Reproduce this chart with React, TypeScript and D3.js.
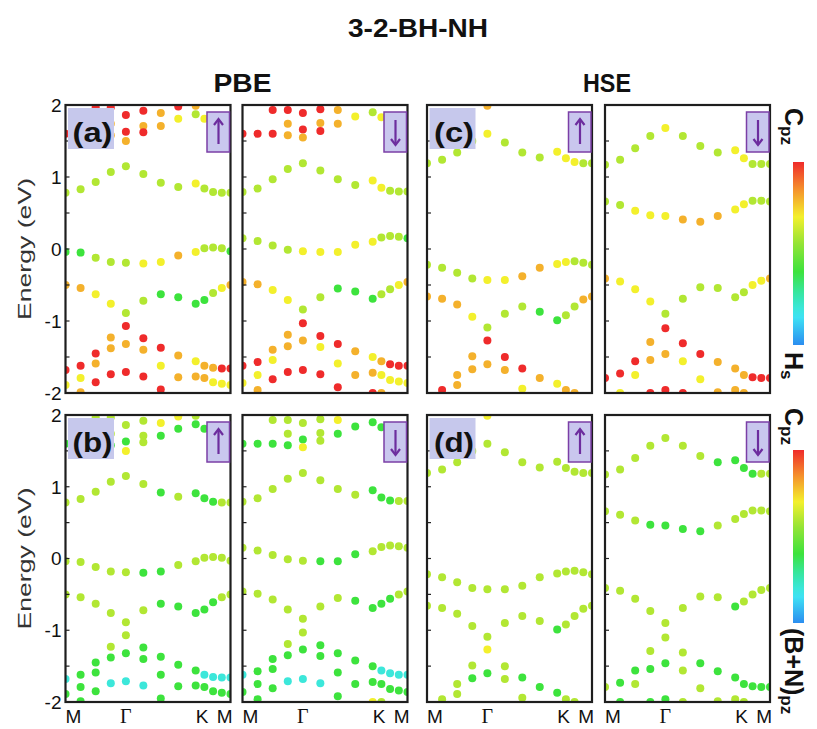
import React from 'react';
import * as d3 from 'd3';

// k-path M -> Γ -> K -> M, 13 sampled k-points (fraction of path length)
const kPath = [0, 0.0915, 0.183, 0.2745, 0.366, 0.4718, 0.5775, 0.6833, 0.789, 0.8418, 0.8945, 0.9473, 1];
const kTickPos = [0, 0.366, 0.789, 1];
const kTickLabels = ['M', 'Γ', 'K', 'M'];
const eTicks = [2, 1, 0, -1, -2];
const eMinorTicks = [1.5, 1, 0.5, 0, -0.5, -1, -1.5];

// band energies (eV), one value per k-point; null = not visible
const pbeUp = [
  [null, null, 1.97, 1.97, 1.86, 1.92, 1.89, 1.98, 1.99, null, null, null, null],
  [1.60, 1.60, 1.60, 1.74, 1.63, 1.71, 1.71, 1.81, 1.87, 1.81, null, null, 1.60],
  [null, null, null, 1.58, 1.50, 1.62, null, null, null, null, null, null, null],
  [0.78, 0.83, 0.93, 1.07, 1.15, 1.04, 0.92, 0.86, 0.91, 0.84, 0.79, 0.78, 0.78],
  [-0.04, -0.05, -0.12, -0.18, -0.19, -0.20, -0.18, -0.09, -0.04, 0.01, 0.02, 0.01, -0.03],
  [-0.50, -0.54, -0.63, -0.76, -0.89, -0.72, -0.63, -0.67, -0.76, -0.71, -0.61, -0.54, -0.50],
  [-1.68, -1.62, -1.45, -1.23, -1.07, -1.24, -1.37, -1.48, -1.56, -1.62, -1.65, -1.66, -1.66],
  [-1.89, -1.79, -1.59, -1.38, -1.32, -1.40, -1.62, -1.78, -1.77, -1.79, -1.85, -1.87, -1.89],
  [null, -1.99, -1.85, -1.74, -1.71, -1.77, -1.95, null, null, null, null, null, null],
];
const pbeDown = [
  [null, null, 1.93, 1.93, 1.89, 1.94, 1.93, null, null, null, null, null, null],
  [1.60, 1.60, 1.60, 1.74, 1.66, 1.75, 1.74, 1.84, 1.90, 1.83, null, null, 1.60],
  [null, null, null, 1.58, 1.55, 1.64, null, null, null, null, null, null, null],
  [0.79, 0.84, 0.97, 1.11, 1.19, 1.09, 0.97, 0.89, 0.95, 0.85, 0.81, 0.80, 0.80],
  [0.15, 0.11, 0.05, -0.01, -0.03, -0.04, -0.04, 0.06, 0.10, 0.16, 0.18, 0.17, 0.15],
  [-0.46, -0.49, -0.57, -0.71, -0.84, -0.67, -0.55, -0.59, -0.69, -0.63, -0.56, -0.50, -0.46],
  [-1.62, -1.57, -1.40, -1.19, -1.03, -1.21, -1.32, -1.42, -1.50, -1.56, -1.60, -1.62, -1.62],
  [-1.86, -1.75, -1.54, -1.35, -1.27, -1.36, -1.59, -1.75, -1.72, -1.75, -1.82, -1.84, -1.86],
  [null, -1.96, -1.81, -1.71, -1.68, -1.74, -1.92, null, -2.0, -2.0, null, null, null],
];
const hseUp = [
  [null, null, null, null, 1.99, null, null, null, null, null, null, null, null],
  [1.19, 1.24, 1.34, 1.50, 1.60, 1.48, 1.34, 1.27, 1.35, 1.26, 1.21, 1.19, 1.19],
  [-0.22, -0.26, -0.33, -0.41, -0.43, -0.43, -0.38, -0.26, -0.21, -0.18, -0.17, -0.19, -0.22],
  [-0.66, -0.69, -0.77, -0.94, -1.09, -0.90, -0.80, -0.87, -0.99, -0.92, -0.80, -0.70, -0.66],
  [null, -1.96, -1.75, -1.49, -1.27, -1.50, -1.66, -1.79, -1.87, -1.96, -2.0, null, null],
  [null, null, -1.89, -1.67, -1.60, -1.68, -1.94, null, null, null, null, null, null],
];
const hseDown = [
  [1.17, 1.24, 1.40, 1.57, 1.68, 1.57, 1.43, 1.34, 1.37, 1.26, 1.18, 1.18, 1.18],
  [0.66, 0.61, 0.53, 0.47, 0.46, 0.41, 0.38, 0.46, 0.55, 0.62, 0.67, 0.67, 0.66],
  [-0.41, -0.45, -0.56, -0.73, -0.90, -0.69, -0.53, -0.54, -0.67, -0.60, -0.50, -0.44, -0.41],
  [-1.79, -1.73, -1.56, -1.29, -1.10, -1.31, -1.46, -1.57, -1.66, -1.75, -1.78, -1.79, -1.79],
  [null, -2.0, -1.75, -1.54, -1.46, -1.56, -1.81, -1.99, -1.96, -2.0, null, null, null],
  [null, null, null, -2.0, -1.96, -2.0, null, null, null, null, null, null, null],
];

// projected weight, 0..10 (10 = C pz, 0 = H s / (B+N) pz)
const pbeUpHs = [
  [0, 0, 10, 10, 10, 10, 8, 10, 8, 0, 0, 0, 0],
  [10, 10, 10, 8, 10, 8, 8, 7, 6, 7, 0, 0, 10],
  [0, 0, 0, 8, 8, 10, 0, 0, 0, 0, 0, 0, 0],
  [6, 6, 6, 6, 6, 6, 6, 6, 7, 6, 6, 6, 6],
  [4, 4, 6, 6, 6, 7, 7, 8, 7, 6, 6, 6, 4],
  [8, 8, 7, 7, 6, 6, 4, 4, 4, 4, 6, 7, 8],
  [10, 10, 10, 8, 10, 10, 10, 8, 7, 8, 8, 10, 10],
  [7, 7, 8, 8, 8, 8, 7, 8, 8, 8, 7, 7, 7],
  [0, 8, 10, 10, 10, 10, 10, 0, 0, 0, 0, 0, 0],
];
const pbeDownHs = [
  [0, 0, 10, 10, 10, 10, 8, 0, 0, 0, 0, 0, 0],
  [10, 10, 10, 8, 10, 8, 8, 7, 6, 7, 0, 0, 10],
  [0, 0, 0, 8, 8, 10, 0, 0, 0, 0, 0, 0, 0],
  [6, 6, 6, 6, 6, 6, 6, 6, 7, 7, 6, 6, 6],
  [6, 6, 6, 6, 7, 7, 7, 7, 7, 6, 6, 6, 4],
  [8, 8, 7, 7, 6, 6, 4, 4, 4, 6, 6, 7, 8],
  [10, 10, 8, 8, 10, 10, 10, 8, 7, 8, 10, 10, 10],
  [7, 7, 7, 8, 8, 7, 7, 8, 8, 7, 7, 7, 7],
  [0, 8, 10, 10, 10, 10, 10, 0, 10, 8, 0, 0, 0],
];
const hseUpHs = [
  [0, 0, 0, 0, 8, 0, 0, 0, 0, 0, 0, 0, 0],
  [6, 6, 6, 6, 7, 6, 6, 6, 7, 7, 7, 6, 6],
  [6, 6, 6, 6, 7, 7, 8, 8, 7, 7, 6, 6, 6],
  [8, 8, 8, 7, 6, 6, 6, 4, 4, 6, 6, 8, 8],
  [0, 10, 8, 8, 10, 10, 10, 8, 7, 8, 8, 0, 0],
  [0, 0, 8, 8, 8, 8, 7, 0, 0, 0, 0, 0, 0],
];
const hseDownHs = [
  [6, 6, 6, 6, 7, 6, 6, 6, 7, 7, 6, 6, 6],
  [6, 6, 7, 7, 7, 8, 8, 8, 7, 7, 6, 6, 6],
  [8, 7, 7, 7, 6, 6, 6, 6, 6, 6, 7, 7, 8],
  [10, 10, 10, 8, 10, 10, 10, 8, 8, 8, 10, 10, 10],
  [0, 7, 7, 8, 8, 7, 7, 8, 8, 8, 0, 0, 0],
  [0, 0, 0, 10, 10, 10, 0, 0, 0, 0, 0, 0, 0],
];
const pbeUpBN = [
  [0, 0, 6, 6, 6, 6, 7, 7, 6, 0, 0, 0, 0],
  [4, 4, 4, 6, 4, 6, 4, 4, 4, 4, 0, 0, 4],
  [0, 0, 0, 4, 7, 6, 0, 0, 0, 0, 0, 0, 0],
  [6, 6, 6, 6, 6, 6, 4, 6, 4, 4, 4, 6, 6],
  [6, 6, 6, 6, 6, 4, 4, 6, 6, 6, 6, 6, 6],
  [6, 6, 6, 6, 6, 6, 4, 4, 4, 4, 4, 6, 6],
  [2, 4, 4, 6, 6, 4, 4, 4, 4, 2, 2, 2, 2],
  [4, 4, 4, 4, 4, 4, 4, 4, 4, 4, 4, 4, 4],
  [0, 4, 4, 2, 2, 2, 4, 0, 0, 0, 0, 0, 0],
];
const pbeDownBN = [
  [0, 0, 6, 6, 6, 6, 7, 0, 0, 0, 0, 0, 0],
  [4, 4, 4, 6, 4, 6, 4, 4, 4, 4, 0, 0, 4],
  [0, 0, 0, 4, 7, 6, 0, 0, 0, 0, 0, 0, 0],
  [6, 6, 6, 6, 6, 6, 6, 6, 4, 4, 4, 6, 6],
  [6, 6, 6, 6, 6, 4, 4, 4, 6, 6, 6, 6, 6],
  [6, 6, 6, 6, 6, 6, 6, 4, 4, 4, 4, 6, 6],
  [2, 4, 4, 6, 6, 4, 4, 4, 4, 2, 2, 2, 2],
  [4, 4, 4, 4, 4, 4, 4, 4, 4, 4, 4, 4, 4],
  [0, 4, 4, 2, 2, 2, 4, 0, 7, 6, 0, 0, 0],
];
const hseUpBN = [
  [0, 0, 0, 0, 7, 0, 0, 0, 0, 0, 0, 0, 0],
  [6, 6, 6, 6, 6, 6, 6, 6, 6, 6, 6, 6, 6],
  [6, 6, 6, 6, 6, 6, 6, 6, 6, 6, 6, 6, 6],
  [6, 6, 6, 6, 6, 6, 6, 6, 4, 6, 6, 6, 6],
  [0, 6, 6, 6, 7, 6, 4, 4, 4, 6, 6, 0, 0],
  [0, 0, 6, 4, 4, 6, 6, 0, 0, 0, 0, 0, 0],
];
const hseDownBN = [
  [6, 6, 6, 6, 6, 6, 6, 4, 4, 4, 4, 6, 6],
  [6, 6, 6, 4, 4, 4, 4, 6, 6, 6, 6, 6, 6],
  [6, 6, 6, 6, 6, 6, 6, 6, 4, 6, 6, 6, 6],
  [6, 4, 4, 6, 6, 6, 4, 4, 4, 4, 4, 4, 4],
  [0, 4, 6, 4, 4, 6, 6, 6, 6, 6, 0, 0, 0],
  [0, 0, 0, 4, 4, 6, 0, 0, 0, 0, 0, 0, 0],
];

const colorLevels = [0, 1.6, 2.8, 4, 5.6, 7, 8.4, 10];
const colorStops = ['#2b8df0', '#3fe7f4', '#36e6a6', '#3de33d', '#98e436', '#f3f02c', '#f5982c', '#ef2b2b'];

const W = 817;
const H = 729;
const PW = 165;
const colX = [65.5, 242.5, 427, 605];
const rows = [
  { top: 105, bottom: 393 },
  { top: 415, bottom: 702 },
];
const SANS = '"Liberation Sans", Arial, sans-serif';

const color = d3.scaleLinear<string>().domain(colorLevels).range(colorStops).interpolate(d3.interpolateRgb);

function Panel({ id, x0, top, bottom, bands, weights, label, spin, yAxis, xAxis }) {
  const x = d3.scaleLinear().domain([0, 1]).range([x0, x0 + PW]);
  const y = d3.scaleLinear().domain([-2, 2]).range([bottom, top]);
  const cx = x0 + PW - 12;
  const boxTop = top + 7;
  return (
    <g>
      <defs>
        <clipPath id={id}>
          <rect x={x0} y={top} width={PW} height={bottom - top} />
        </clipPath>
      </defs>
      <g clipPath={`url(#${id})`}>
        {bands.map((band, b) =>
          band.map((e, k) =>
            e == null ? null : (
              <circle key={`${b}-${k}`} cx={x(kPath[k])} cy={y(e)} r={4} fill={color(weights[b][k])} />
            )
          )
        )}
      </g>
      {eMinorTicks.map((t) => (
        <line key={t} x1={x0} x2={x0 + 4} y1={y(t)} y2={y(t)} stroke="#222" strokeWidth={1.2} />
      ))}
      <rect x={x0} y={top} width={PW} height={bottom - top} fill="none" stroke="#1e1e1e" strokeWidth={2.2} />
      {label && (
        <g>
          <rect x={x0 + 2.5} y={top + 3} width={46} height={41} fill="#c6c8ec" />
          <text x={x0 + 7} y={top + 37} fontFamily={SANS} fontWeight="bold" fontSize={28} textLength={40} lengthAdjust="spacingAndGlyphs" fill="#111">
            {label}
          </text>
        </g>
      )}
      <rect x={x0 + PW - 23.5} y={boxTop} width={22.5} height={40} fill="#c9c7ee" stroke="#7b3fa6" strokeWidth={1.5} />
      {spin === 'up' ? (
        <g stroke="#6d2d9e" strokeWidth={2.2} fill="none">
          <line x1={cx} x2={cx} y1={boxTop + 32} y2={boxTop + 7} />
          <polyline points={`${cx - 4.5},${boxTop + 13} ${cx},${boxTop + 7} ${cx + 4.5},${boxTop + 13}`} />
        </g>
      ) : (
        <g stroke="#6d2d9e" strokeWidth={2.2} fill="none">
          <line x1={cx} x2={cx} y1={boxTop + 8} y2={boxTop + 33} />
          <polyline points={`${cx - 4.5},${boxTop + 27} ${cx},${boxTop + 33} ${cx + 4.5},${boxTop + 27}`} />
        </g>
      )}
      {yAxis &&
        eTicks.map((t) => (
          <text key={t} x={x0 - 4} y={y(t)} dy="0.36em" textAnchor="end" fontFamily={SANS} fontSize={19} fill="#111">
            {t}
          </text>
        ))}
      {yAxis && (
        <text
          transform={`translate(31,${(top + bottom) / 2}) rotate(-90)`}
          textAnchor="middle"
          fontFamily={SANS}
          fontSize={19}
          textLength={142}
          lengthAdjust="spacingAndGlyphs"
          fill="#333"
        >
          Energy (eV)
        </text>
      )}
      {xAxis &&
        kTickLabels.map((l, i) => {
          const last = i === kTickLabels.length - 1;
          const anchor = i === 0 ? 'start' : last ? 'end' : l === 'Γ' ? 'middle' : 'start';
          return (
            <text
              key={i}
              x={x(kTickPos[i]) + (last ? 2 : 0)}
              y={723}
              textAnchor={anchor}
              fontFamily={l === 'Γ' ? '"Liberation Serif", serif' : SANS}
              fontSize={l === 'Γ' ? 20 : 19}
              fill="#111"
            >
              {l}
            </text>
          );
        })}
    </g>
  );
}

function ColorBar({ id, top, bottom, capTop, lowTop, lowText }) {
  // stops from the top (C pz, weight 10) down to the bottom (weight 0)
  const levels = d3.range(10, -0.01, -0.5);
  return (
    <g>
      <defs>
        <linearGradient id={id} x1="0" x2="0" y1="0" y2="1">
          {levels.map((l) => (
            <stop key={l} offset={(10 - l) / 10} stopColor={color(l)} />
          ))}
        </linearGradient>
      </defs>
      <rect x={793} y={top} width={11} height={bottom - top} fill={`url(#${id})`} />
      <text transform={`translate(785,${capTop}) rotate(90)`} fontFamily={SANS} fontWeight="bold" fontSize={25} fill="#111">
        C<tspan fontSize={17} dy={4}>pz</tspan>
      </text>
      <text transform={`translate(785,${lowTop}) rotate(90)`} fontFamily={SANS} fontWeight="bold" fontSize={25} fill="#111">
        {lowText[0]}
        <tspan fontSize={17} dy={4}>{lowText[1]}</tspan>
      </text>
    </g>
  );
}

export default function App() {
  const topSets = [
    [pbeUp, pbeUpHs, 'up', '(a)'],
    [pbeDown, pbeDownHs, 'down', null],
    [hseUp, hseUpHs, 'up', '(c)'],
    [hseDown, hseDownHs, 'down', null],
  ];
  const bottomSets = [
    [pbeUp, pbeUpBN, 'up', '(b)'],
    [pbeDown, pbeDownBN, 'down', null],
    [hseUp, hseUpBN, 'up', '(d)'],
    [hseDown, hseDownBN, 'down', null],
  ];
  return (
    <svg width={W} height={H} style={{ position: 'absolute', left: 0, top: 0, background: '#fff' }}>
      <text x={418} y={37} textAnchor="middle" fontFamily={SANS} fontWeight="bold" fontSize={26} textLength={140} lengthAdjust="spacingAndGlyphs" fill="#111">
        3-2-BH-NH
      </text>
      <text x={242.5} y={92} textAnchor="middle" fontFamily={SANS} fontWeight="bold" fontSize={26} textLength={58} lengthAdjust="spacingAndGlyphs" fill="#111">
        PBE
      </text>
      <text x={607} y={92} textAnchor="middle" fontFamily={SANS} fontWeight="bold" fontSize={26} textLength={48} lengthAdjust="spacingAndGlyphs" fill="#111">
        HSE
      </text>
      {[topSets, bottomSets].map((sets, r) =>
        sets.map(([bands, weights, spin, label], c) => (
          <Panel
            key={`${r}-${c}`}
            id={`clip-${r}-${c}`}
            x0={colX[c]}
            top={rows[r].top}
            bottom={rows[r].bottom}
            bands={bands}
            weights={weights}
            label={label}
            spin={spin}
            yAxis={c === 0}
            xAxis={r === 1}
          />
        ))
      )}
      <ColorBar id="cb-top" top={162} bottom={345} capTop={108} lowTop={352} lowText={['H', 's']} />
      <ColorBar id="cb-bottom" top={450} bottom={623} capTop={408} lowTop={628} lowText={['(B+N)', 'pz']} />
    </svg>
  );
}
